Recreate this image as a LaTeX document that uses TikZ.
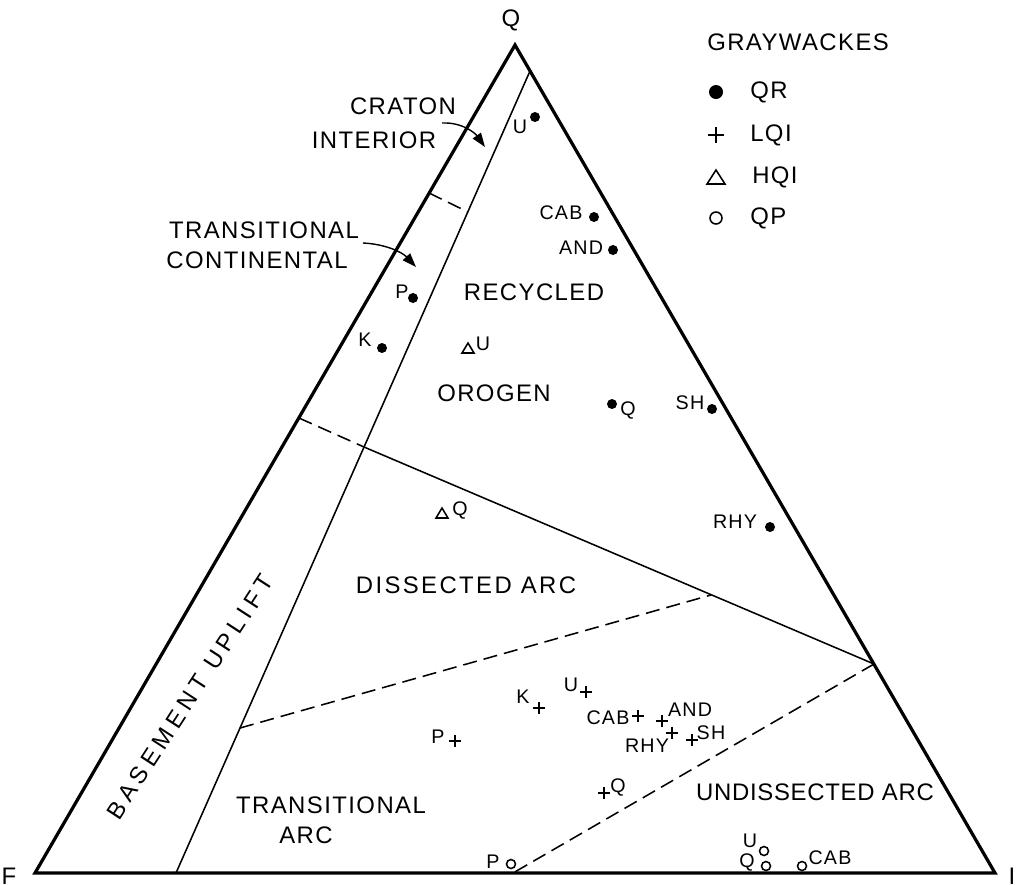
\documentclass[tikz,border=0pt]{standalone}
\usepackage{fontspec}
\setmainfont[LetterSpace=6]{Liberation Sans}
\usetikzlibrary{arrows.meta}
\begin{document}
\begin{tikzpicture}[x=0.025cm,y=-0.025cm,
  edge/.style={line width=2.3pt},
  bound/.style={line width=1.1pt},
  dashbound/.style={line width=1.1pt,dash pattern=on 10pt off 5pt},
  region/.style={inner sep=0pt,font=\fontsize{17}{19}\selectfont},
  corner/.style={inner sep=0pt,font=\fontsize{17}{19}\selectfont},
  lbl/.style={inner sep=0pt,font=\fontsize{14}{16}\selectfont},
  pointer/.style={line width=1pt,-{Triangle[length=10pt,width=7pt]}}]
\useasboundingbox (0,0) rectangle (1019,884);
\coordinate (Q) at (515,45);
\coordinate (F) at (35,873);
\coordinate (I) at (995,873);
\coordinate (b1) at (530,71);
\coordinate (b2) at (176,873);
\coordinate (c1) at (429,193);
\coordinate (c2) at (468,212);
\coordinate (d1) at (299,418);
\coordinate (d2) at (364,447);
\coordinate (d3) at (874,664);
\coordinate (e1) at (240,728);
\coordinate (e2) at (711,595);
\coordinate (f1) at (513,873);
\draw[edge] (Q) -- (F) -- (I) -- cycle;
\draw[bound] (b1) -- (b2);
\draw[dashbound] (c1) -- (c2);
\draw[dashbound] (d1) -- (d2);
\draw[bound] (d2) -- (d3);
\draw[dashbound] (e1) -- (e2);
\draw[dashbound] (d3) -- (f1);
\node[corner] (lQ) at (511,20) {Q};
\node[corner] (lF) at (9,876) {F};
\node[corner] (lI) at (1012,876) {I};
\node[region] (craton) at (403,106) {CRATON};
\node[region] (interior) at (374,140) {INTERIOR};
\node[region] (trans) at (264,230) {TRANSITIONAL};
\node[region] (cont) at (257,260) {CONTINENTAL};
\node[region] (recyc) at (534,292) {RECYCLED};
\node[region] (orogen) at (494,393) {OROGEN};
\node[region] (dissec) at (466,585) {\addfontfeatures{LetterSpace=10}DISSECTED ARC};
\node[region,rotate=57] (base) at (190,697) {\addfontfeatures{LetterSpace=21}BASEMENT UPLIFT};
\node[region] (transarc) at (331,805) {TRANSITIONAL};
\node[region] (arc) at (306,835) {ARC};
\node[region] (undis) at (815,792) {\addfontfeatures{LetterSpace=3}UNDISSECTED ARC};
\coordinate (p1) at (442,123);
\coordinate (p2) at (485,147);
\coordinate (q1) at (363,243);
\coordinate (q2) at (416,267);
\draw[pointer] (p1) .. controls (462,122) and (475,133) .. (p2);
\draw[pointer] (q1) .. controls (385,244) and (402,252) .. (q2);
\node[region,anchor=west] (gw) at (707,42) {GRAYWACKES};
\fill (716,92) circle (7);
\draw[bound] (708,135) -- (724,135) (716,127) -- (716,143);
\draw[bound] (707,184) -- (725,184) -- (716,170) -- cycle;
\draw[bound] (716,218) circle (6);
\node[region,anchor=west] (qr) at (750,92) {QR};
\node[region,anchor=west] (lqi) at (750,135) {LQI};
\node[region,anchor=west] (hqi) at (752,177) {HQI};
\node[region,anchor=west] (qp) at (750,218) {QP};
\foreach \x/\y in {535/117,594/217,613/250,413/298,382/348,612/404,712/409,770/527}
{
\fill (\x,\y) circle (5);
}
\foreach \x/\y in {468/348,442/513}
{
\draw[bound] (\x-6,\y+5) -- (\x+6,\y+5) -- (\x,\y-5) -- cycle;
}
\foreach \x/\y in {539/708,586/692,638/716,662/721,672/733,692/740,604/793,455/741}
{
\draw[bound] (\x-6,\y) -- (\x+6,\y) (\x,\y-6) -- (\x,\y+6);
}
\foreach \x/\y in {511/864,764/851,766/866,802/866}
{
\draw[bound] (\x,\y) circle (4.5);
}
\foreach \x/\y/\t [count=\i] in {520/127/U,561/213/CAB,581/248/AND,402/292/P,365/340/K,628/410/Q,690/403/SH,735/522/RHY,483/344/U,460/510/Q,523/697/K,571/685/U,608/718/CAB,690/710/AND,647/746/RHY,711/733/SH,618/787/Q,438/737/P,493/862/P,750/841/U,747/862/Q,830/858/CAB}
{
\node[lbl] (pt\i) at (\x,\y) {\t};
}
\end{tikzpicture}
\end{document}
